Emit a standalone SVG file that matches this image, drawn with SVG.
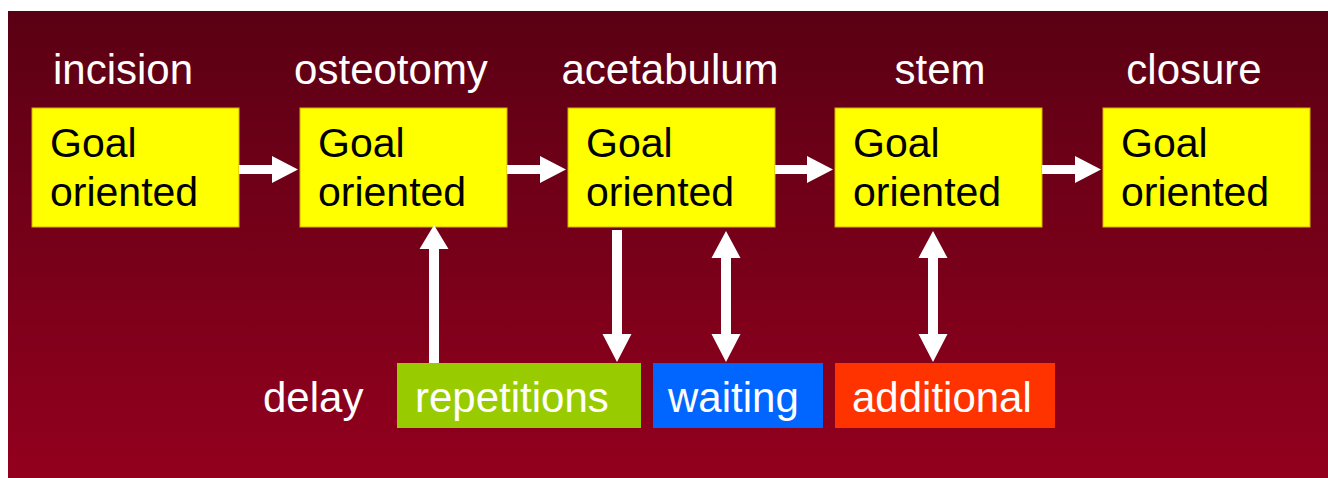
<svg xmlns="http://www.w3.org/2000/svg" width="1328" height="478" viewBox="0 0 1328 478">
<defs>
<linearGradient id="bg" x1="0" y1="0" x2="0" y2="1">
<stop offset="0" stop-color="#5a0014"/>
<stop offset="1" stop-color="#93001e"/>
</linearGradient>
<style>
.hdr{font-family:"Liberation Sans",Arial,sans-serif;font-size:42px;fill:#ffffff}
.goal{fill:#ffff00;stroke:#d8b000;stroke-width:1}
.gt{font-family:"Liberation Sans",Arial,sans-serif;font-size:41px;fill:#000000}
.bt{font-family:"Liberation Sans",Arial,sans-serif;font-size:42px;fill:#ffffff}
.arr{fill:#ffffff}
</style>
</defs>
<rect x="0" y="0" width="1328" height="478" fill="#ffffff"/>
<rect x="8" y="11" width="1320" height="467" fill="url(#bg)"/>

<g id="header-labels">
<text class="hdr" x="123" y="84" text-anchor="middle">incision</text>
<text class="hdr" x="391" y="84" text-anchor="middle">osteotomy</text>
<text class="hdr" x="670" y="84" text-anchor="middle">acetabulum</text>
<text class="hdr" x="940" y="84" text-anchor="middle">stem</text>
<text class="hdr" x="1194" y="84" text-anchor="middle">closure</text>
</g>

<g id="node-incision">
<rect class="goal" x="32" y="108" width="207" height="119"/>
<text class="gt" x="50" y="157">Goal</text>
<text class="gt" x="50" y="206">oriented</text>
</g>
<g id="node-osteotomy">
<rect class="goal" x="300" y="108" width="207" height="119"/>
<text class="gt" x="318" y="157">Goal</text>
<text class="gt" x="318" y="206">oriented</text>
</g>
<g id="node-acetabulum">
<rect class="goal" x="568" y="108" width="207" height="119"/>
<text class="gt" x="586" y="157">Goal</text>
<text class="gt" x="586" y="206">oriented</text>
</g>
<g id="node-stem">
<rect class="goal" x="835" y="108" width="207" height="119"/>
<text class="gt" x="853" y="157">Goal</text>
<text class="gt" x="853" y="206">oriented</text>
</g>
<g id="node-closure">
<rect class="goal" x="1103" y="108" width="207" height="119"/>
<text class="gt" x="1121" y="157">Goal</text>
<text class="gt" x="1121" y="206">oriented</text>
</g>

<g id="node-delay">
<text class="bt" x="263" y="412">delay</text>
</g>
<g id="node-repetitions">
<rect x="397" y="363" width="244" height="65" fill="#99cc00"/>
<text class="bt" x="415" y="412">repetitions</text>
</g>
<g id="node-waiting">
<rect x="653" y="363" width="170" height="65" fill="#0066ff"/>
<text class="bt" x="668" y="412">waiting</text>
</g>
<g id="node-additional">
<rect x="835" y="363" width="220" height="65" fill="#ff3300"/>
<text class="bt" x="852" y="412">additional</text>
</g>

<g id="connectors">
<polygon class="arr" points="239,165 272,165 272,156 298,169.5 272,183 272,174 239,174"/>
<polygon class="arr" points="507,165 540,165 540,156 566,169.5 540,183 540,174 507,174"/>
<polygon class="arr" points="775,165 807,165 807,156 833,169.5 807,183 807,174 775,174"/>
<polygon class="arr" points="1042,165 1075,165 1075,156 1101,169.5 1075,183 1075,174 1042,174"/>
<polygon class="arr" points="429,363 429,249 419.5,249 434,225 448.5,249 439,249 439,363"/>
<polygon class="arr" points="612,230 622,230 622,334 631.5,334 617,362 602.5,334 612,334"/>
<polygon class="arr" points="726,231 740.5,258 731,258 731,334 740.5,334 726,362 711.5,334 721,334 721,258 711.5,258"/>
<polygon class="arr" points="933,231 947.5,258 938,258 938,334 947.5,334 933,362 918.5,334 928,334 928,258 918.5,258"/>
</g>
</svg>
